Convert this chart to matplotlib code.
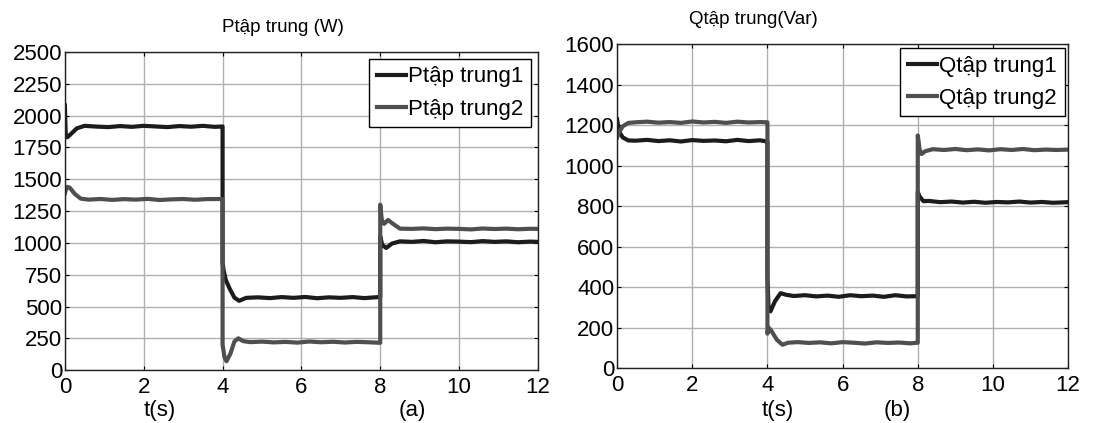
import matplotlib.pyplot as plt

plt.rcParams['font.family'] = ['Liberation Sans', 'DejaVu Sans']

# ---- data ----
# (a) P, W
p1_t = [0, 0.02, 0.06, 0.15, 0.3, 0.5, 0.8, 1.1, 1.4, 1.7, 2.0, 2.3, 2.6, 2.9, 3.2, 3.5, 3.8, 3.99,
        4.0, 4.0, 4.03, 4.08, 4.18, 4.3, 4.42, 4.6, 4.9, 5.2, 5.5, 5.8, 6.1, 6.4, 6.7, 7.0, 7.3, 7.6, 7.99,
        8.0, 8.0, 8.05, 8.15, 8.3, 8.5, 8.8, 9.1, 9.4, 9.7, 10.0, 10.3, 10.6, 10.9, 11.2, 11.5, 11.8, 12]
p1_v = [2080, 1860, 1830, 1855, 1900, 1920, 1914, 1910, 1918, 1912, 1920, 1915, 1910, 1918, 1913, 1920, 1912, 1915,
        1915, 840, 780, 710, 640, 570, 545, 568, 572, 566, 574, 568, 575, 565, 572, 568, 574, 566, 575,
        575, 1050, 985, 960, 995, 1012, 1008, 1015, 1005, 1012, 1010, 1006, 1014, 1008, 1012, 1005, 1010, 1008]

p2_t = [0, 0.05, 0.12, 0.25, 0.4, 0.6, 0.9, 1.2, 1.5, 1.8, 2.1, 2.4, 2.7, 3.0, 3.3, 3.6, 3.99,
        4.0, 4.0, 4.05, 4.1, 4.2, 4.3, 4.4, 4.52, 4.7, 5.0, 5.3, 5.6, 5.9, 6.2, 6.5, 6.8, 7.1, 7.4, 7.7, 7.99,
        8.0, 8.0, 8.04, 8.1, 8.2, 8.3, 8.5, 8.8, 9.1, 9.4, 9.7, 10.0, 10.3, 10.6, 10.9, 11.2, 11.5, 11.8, 12]
p2_v = [1390, 1440, 1435, 1385, 1348, 1340, 1345, 1338, 1344, 1340, 1346, 1337, 1342, 1345, 1339, 1344, 1345,
        1345, 200, 100, 70, 130, 225, 250, 228, 220, 224, 218, 222, 216, 225, 219, 223, 217, 222, 219, 215,
        215, 1300, 1180, 1150, 1180, 1155, 1112, 1110, 1114, 1108, 1112, 1110, 1106, 1113, 1109, 1112, 1107, 1111, 1110]

# (b) Q, Var
q1_t = [0, 0.05, 0.15, 0.3, 0.5, 0.8, 1.1, 1.4, 1.7, 2.0, 2.3, 2.6, 2.9, 3.2, 3.5, 3.8, 3.99,
        4.0, 4.0, 4.03, 4.08, 4.2, 4.35, 4.5, 4.7, 5.0, 5.3, 5.6, 5.9, 6.2, 6.5, 6.8, 7.1, 7.4, 7.7, 7.99,
        8.0, 8.0, 8.05, 8.15, 8.3, 8.6, 8.9, 9.2, 9.5, 9.8, 10.1, 10.4, 10.7, 11.0, 11.3, 11.6, 12]
q1_v = [1230, 1170, 1140, 1125, 1124, 1128, 1122, 1126, 1120, 1127, 1123, 1125, 1121, 1128, 1122, 1126, 1120,
        1120, 450, 290, 280, 330, 370, 362, 356, 360, 354, 358, 352, 360, 355, 358, 352, 360, 354, 355,
        355, 870, 848, 825, 826, 820, 823, 818, 822, 817, 821, 819, 823, 818, 821, 817, 820]

q2_t = [0, 0.05, 0.15, 0.3, 0.5, 0.8, 1.1, 1.4, 1.7, 2.0, 2.3, 2.6, 2.9, 3.2, 3.5, 3.8, 3.99,
        4.0, 4.0, 4.03, 4.1, 4.25, 4.4, 4.55, 4.8, 5.1, 5.4, 5.7, 6.0, 6.3, 6.6, 6.9, 7.2, 7.5, 7.8, 7.99,
        8.0, 8.0, 8.05, 8.1, 8.2, 8.4, 8.7, 9.0, 9.3, 9.6, 9.9, 10.2, 10.5, 10.8, 11.1, 11.4, 11.7, 12]
q2_v = [1140, 1165, 1195, 1212, 1215, 1218, 1213, 1216, 1212, 1219, 1214, 1217, 1212, 1218, 1214, 1216, 1215,
        1215, 170, 200, 185, 140, 115, 125, 128, 124, 127, 122, 128, 125, 121, 127, 124, 126, 122, 125,
        125, 1150, 1080, 1058, 1072, 1082, 1078, 1083, 1077, 1081, 1076, 1082, 1078, 1083, 1077, 1080, 1078, 1080]

p_ticks = [0, 250, 500, 750, 1000, 1250, 1500, 1750, 2000, 2250, 2500]
q_ticks = [0, 200, 400, 600, 800, 1000, 1200, 1400, 1600]
x_ticks = [0, 2, 4, 6, 8, 10, 12]

c_dark = '#1c1c1c'
c_grey = '#4f4f4f'
fs = 16

fig = plt.figure(figsize=(11, 4.23), dpi=100)
ax1 = fig.add_axes([0.059, 0.125, 0.43, 0.752])
ax2 = fig.add_axes([0.561, 0.13, 0.41, 0.765])


def style(ax, yticks):
    ax.set_xlim(0, 12)
    ax.set_ylim(yticks[0], yticks[-1])
    ax.set_xticks(x_ticks)
    ax.set_yticks(yticks)
    ax.grid(True, color='#b0b0b0', lw=1.0)
    ax.tick_params(direction='in', top=True, right=True, labelsize=fs, length=3)
    ax.tick_params(axis='x', pad=5)
    ax.tick_params(axis='y', pad=2)
    for s in ax.spines.values():
        s.set_color('#222222')
        s.set_linewidth(1.0)


ax1.plot(p1_t, p1_v, color=c_dark, lw=3, label='Ptập trung1')
ax1.plot(p2_t, p2_v, color=c_grey, lw=3, label='Ptập trung2')
style(ax1, p_ticks)
leg1 = ax1.legend(loc='upper right', fontsize=fs, handlelength=1.3, handletextpad=0.1,
                  borderaxespad=0.3, fancybox=False, framealpha=1, borderpad=0.35, labelspacing=0.5)
leg1.get_frame().set_edgecolor('black')

ax2.plot(q1_t, q1_v, color=c_dark, lw=3, label='Qtập trung1')
ax2.plot(q2_t, q2_v, color=c_grey, lw=3, label='Qtập trung2')
style(ax2, q_ticks)
leg2 = ax2.legend(loc='upper right', fontsize=fs, handlelength=1.3, handletextpad=0.1,
                  borderaxespad=0.15, fancybox=False, framealpha=1, borderpad=0.35, labelspacing=0.5)
leg2.get_frame().set_edgecolor('black')

fig.text(0.257, 0.935, 'Ptập trung (W)', fontsize=13.5, ha='center', va='center')
fig.text(0.685, 0.955, 'Qtập trung(Var)', fontsize=13.5, ha='center', va='center')
fig.text(0.145, 0.03, 't(s)', fontsize=fs, ha='center', va='center')
fig.text(0.375, 0.03, '(a)', fontsize=fs, ha='center', va='center')
fig.text(0.707, 0.03, 't(s)', fontsize=fs, ha='center', va='center')
fig.text(0.816, 0.03, '(b)', fontsize=fs, ha='center', va='center')

fig.savefig('out.png', dpi=100)
